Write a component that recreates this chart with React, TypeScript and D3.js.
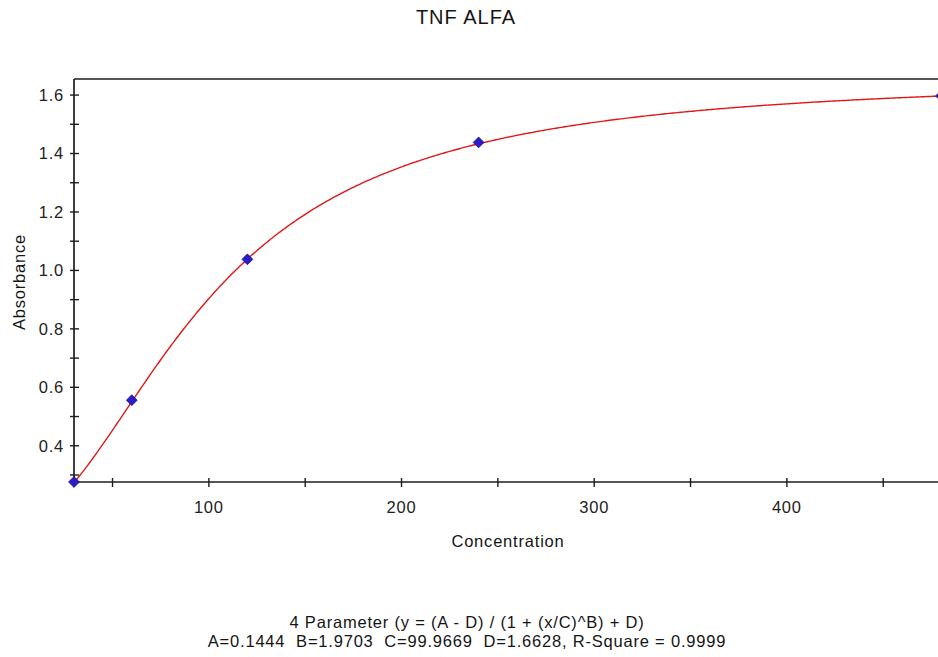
import { useEffect, useRef } from "react";
import * as d3 from "d3";

// standard points
const concentrations = [30, 60, 120, 240, 480];
const absorbances = [0.276, 0.556, 1.038, 1.438, 1.597];

// fit parameters printed under the chart (4PL)
const fitNames = ["A", "B", "C", "D"];
const fitValues = [0.1444, 1.9703, 99.9669, 1.6628];

const xMajorTicks = [100, 200, 300, 400];
const xMinorTicks = [50, 150, 250, 350, 450];
const yMajorTicks = [0.4, 0.6, 0.8, 1.0, 1.2, 1.4, 1.6];
const yMinorTicks = [0.3, 0.5, 0.7, 0.9, 1.1, 1.3, 1.5];

const chartTitle = "TNF ALFA";
const xTitle = "Concentration";
const yTitle = "Absorbance";
const footer1 = "4 Parameter (y = (A - D) / (1 + (x/C)^B) + D)";
const footer2 = "A=0.1444  B=1.9703  C=99.9669  D=1.6628, R-Square = 0.9999";

export default function App() {
  const ref = useRef<SVGSVGElement>(null);

  useEffect(() => {
    const width = 938;
    const height = 657;
    const margin = { top: 79, right: -3, bottom: 175, left: 74 };

    const svg = d3.select(ref.current);
    svg.selectAll("*").remove();
    svg.attr("width", width).attr("height", height);

    const font = "'Liberation Sans', Arial, sans-serif";
    const textSize = "16.5px";
    const spacing = "0.8px";

    const x = d3
      .scaleLinear()
      .domain([30, 480])
      .range([margin.left, width - margin.right]);
    const y = d3
      .scaleLinear()
      .domain([0.276, 1.655])
      .range([height - margin.bottom, margin.top]);

    const [A, B, C, D] = fitValues;
    const fit = (v: number) => (A - D) / (1 + Math.pow(v / C, B)) + D;

    svg
      .append("rect")
      .attr("width", width)
      .attr("height", height)
      .attr("fill", "#fff");

    // title
    svg
      .append("text")
      .attr("x", 466)
      .attr("y", 24)
      .attr("text-anchor", "middle")
      .style("font-family", font)
      .style("font-size", "20px")
      .style("letter-spacing", "1px")
      .attr("fill", "#151515")
      .text(chartTitle);

    // fitted curve
    const xs = d3.range(30, 480.5, 1);
    const line = d3
      .line<number>()
      .x((d) => x(d))
      .y((d) => y(fit(d)));
    svg
      .append("path")
      .datum(xs)
      .attr("d", line)
      .attr("fill", "none")
      .attr("stroke", "#e01818")
      .attr("stroke-width", 1.4);

    // axes
    const axisColor = "#1e1e1e";
    const y0 = y.range()[0];
    const x0 = x.range()[0];
    svg
      .append("line")
      .attr("x1", x0)
      .attr("x2", width)
      .attr("y1", y0)
      .attr("y2", y0)
      .attr("stroke", axisColor)
      .attr("stroke-width", 1.7);
    svg
      .append("line")
      .attr("x1", x0)
      .attr("x2", width)
      .attr("y1", margin.top)
      .attr("y2", margin.top)
      .attr("stroke", axisColor)
      .attr("stroke-width", 1.7);
    svg
      .append("line")
      .attr("x1", x0)
      .attr("x2", x0)
      .attr("y1", margin.top)
      .attr("y2", y0)
      .attr("stroke", axisColor)
      .attr("stroke-width", 1.7);

    // x ticks
    svg
      .append("g")
      .selectAll("line")
      .data([...xMajorTicks, ...xMinorTicks])
      .join("line")
      .attr("x1", (d) => x(d))
      .attr("x2", (d) => x(d))
      .attr("y1", y0 - 4)
      .attr("y2", y0 + 5)
      .attr("stroke", axisColor)
      .attr("stroke-width", 1.4);
    svg
      .append("g")
      .selectAll("text")
      .data(xMajorTicks)
      .join("text")
      .attr("x", (d) => x(d))
      .attr("y", y0 + 31)
      .attr("text-anchor", "middle")
      .style("font-family", font)
      .style("font-size", textSize)
      .style("letter-spacing", spacing)
      .attr("fill", "#222")
      .text((d) => d3.format("d")(d));

    // y ticks
    svg
      .append("g")
      .selectAll("line")
      .data([...yMajorTicks, ...yMinorTicks])
      .join("line")
      .attr("x1", x0 - 4)
      .attr("x2", x0 + 5)
      .attr("y1", (d) => y(d))
      .attr("y2", (d) => y(d))
      .attr("stroke", axisColor)
      .attr("stroke-width", 1.4);
    svg
      .append("g")
      .selectAll("text")
      .data(yMajorTicks)
      .join("text")
      .attr("x", x0 - 10)
      .attr("y", (d) => y(d))
      .attr("dy", "0.36em")
      .attr("text-anchor", "end")
      .style("font-family", font)
      .style("font-size", textSize)
      .style("letter-spacing", spacing)
      .attr("fill", "#222")
      .text((d) => d3.format(".1f")(d));

    // points
    svg
      .append("g")
      .selectAll("path")
      .data(concentrations.map((c, i) => [c, absorbances[i]]))
      .join("path")
      .attr("d", d3.symbol(d3.symbolDiamond2, 75))
      .attr("transform", (d) => `translate(${x(d[0])},${y(d[1])})`)
      .attr("fill", "#2a1cc8")
      .attr("stroke", "#1a108a")
      .attr("stroke-width", 0.8);

    // axis titles
    svg
      .append("text")
      .attr("x", 508)
      .attr("y", 547)
      .attr("text-anchor", "middle")
      .style("font-family", font)
      .style("font-size", textSize)
      .style("letter-spacing", spacing)
      .attr("fill", "#151515")
      .text(xTitle);
    svg
      .append("text")
      .attr("transform", `translate(25,282) rotate(-90)`)
      .attr("text-anchor", "middle")
      .style("font-family", font)
      .style("font-size", textSize)
      .style("letter-spacing", spacing)
      .attr("fill", "#151515")
      .text(yTitle);

    // fit description
    svg
      .append("text")
      .attr("x", 467)
      .attr("y", 628)
      .attr("text-anchor", "middle")
      .style("font-family", font)
      .style("font-size", textSize)
      .style("letter-spacing", spacing)
      .attr("fill", "#151515")
      .text(footer1);
    svg
      .append("text")
      .attr("x", 467)
      .attr("y", 647)
      .attr("text-anchor", "middle")
      .style("font-family", font)
      .style("font-size", textSize)
      .style("letter-spacing", spacing)
      .style("white-space", "pre")
      .attr("fill", "#151515")
      .text(footer2);
  }, []);

  return (
    <div style={{ position: "fixed", left: 0, top: 0 }}>
      <svg ref={ref} style={{ display: "block" }} data-fit={fitNames.join(",")}></svg>
    </div>
  );
}
